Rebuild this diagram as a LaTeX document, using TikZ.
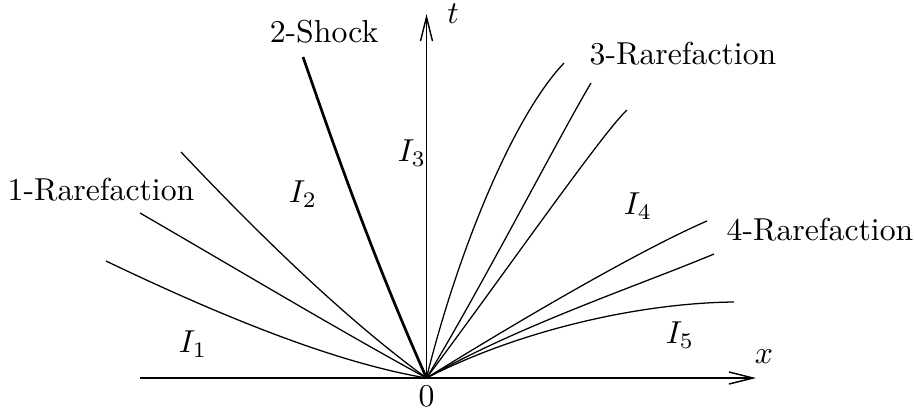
\documentclass[tikz,border=0pt]{standalone}
\usetikzlibrary{arrows.meta}
\begin{document}
\begin{tikzpicture}[x=0.315pt,y=-0.315pt,
  thinline/.style={line width=0.4pt},
  shockline/.style={line width=0.85pt},
  axis/.style={line width=0.45pt,-{Straight Barb[length=7.6pt,width=3.8pt,line width=0.45pt]}},
  lbl/.style={inner sep=0pt}]
\useasboundingbox (0,0) rectangle (914,410);
% origin and axes
\coordinate (O) at (426.5,378);
\coordinate (xs) at (140,378);
\coordinate (xe) at (756,378);
\coordinate (te) at (426.5,14);
\draw[axis] (xs) -- (xe);
\draw[axis] (O) -- (te);
% 1-rarefaction
\coordinate (a1) at (181,152);
\coordinate (a2) at (140,213);
\coordinate (a3) at (106,261);
\draw[thinline] (a1) .. controls (250,225) and (340,315) .. (O);
\draw[thinline] (a2) .. controls (235,268) and (335,328) .. (O);
\draw[thinline] (a3) .. controls (250,330) and (350,365) .. (O);
% 2-shock
\coordinate (s1) at (303,57);
\draw[shockline] (s1) .. controls (320,105) and (365,240) .. (O);
% 3-rarefaction
\coordinate (b1) at (564,63);
\coordinate (b2) at (591,83);
\coordinate (b3) at (627,110);
\draw[thinline] (b1) .. controls (510,120) and (455,262) .. (O);
\draw[thinline] (b2) .. controls (560,135) and (480,290) .. (O);
\draw[thinline] (b3) .. controls (603,132) and (500,280) .. (O);
% 4-rarefaction
\coordinate (c1) at (707,221);
\coordinate (c2) at (714,254);
\coordinate (c3) at (734,302);
\draw[thinline] (c1) .. controls (640,250) and (520,320) .. (O);
\draw[thinline] (c2) .. controls (640,285) and (520,325) .. (O);
\draw[thinline] (c3) .. controls (640,303) and (520,330) .. (O);
% labels
\node[lbl] (l2s) at (324,32) {2-Shock};
\node[lbl] (lt) at (453,14) {$t$};
\node[lbl] (l3r) at (683,54) {3-Rarefaction};
\node[lbl] (l1r) at (101,190) {1-Rarefaction};
\node[lbl] (l4r) at (820,230) {4-Rarefaction};
\node[lbl] (i1) at (193,344) {$I_1$};
\node[lbl] (i2) at (303,194) {$I_2$};
\node[lbl] (i3) at (412,153) {$I_3$};
\node[lbl] (i4) at (638,206) {$I_4$};
\node[lbl] (i5) at (680,335) {$I_5$};
\node[lbl] (lx) at (764,357) {$x$};
\node[lbl] (l0) at (426.5,396) {$0$};
\end{tikzpicture}
\end{document}
